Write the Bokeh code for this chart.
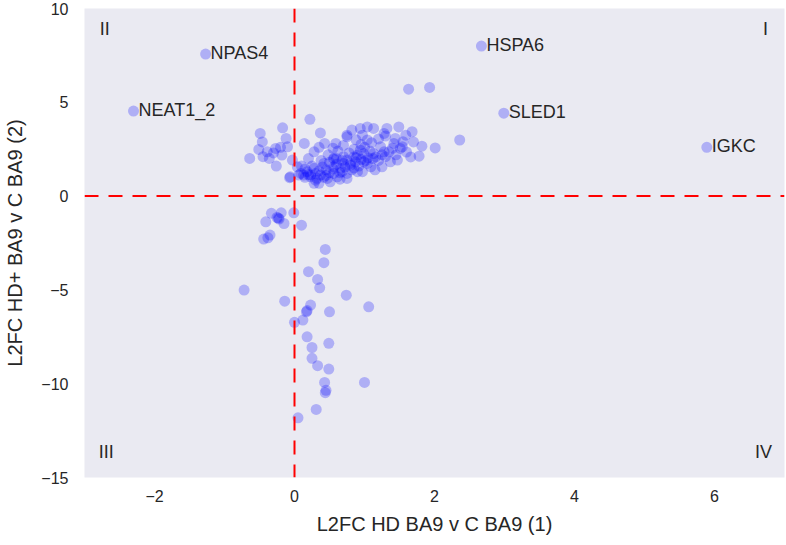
from bokeh.plotting import figure
from bokeh.models import Span, FixedTicker
from bokeh.core.properties import value
from bokeh.embed import file_html
from bokeh.resources import INLINE

# ---- data ----
cluster_x = [-0.49, -0.46, -0.51, -0.64, -0.36, -0.27, -0.18, -0.26, -0.17, -0.12,
             -0.10, -0.03, -0.07, -0.39, -0.20, -0.06, -0.45, -0.30, 0.22, 0.14,
             0.37, 0.43, 0.28, 0.59, 0.75, 0.82, 0.94, 1.04, 1.13, 1.32,
             1.49, 1.68, 1.70, 1.82, 2.01, 2.36, 1.78, 1.66, 1.47, 1.51,
             1.42, 1.28, 1.25, 1.04, 0.94, 0.99, 0.85, 0.70, 0.56, 0.42,
             0.28, 0.13, 0.23, 0.35, 0.47, 0.61, 0.75, 0.90, 1.09, 0.06,
             0.04, 0.56, 0.66, 0.80, 0.56, 0.75, 0.90, 1.13, 1.23, 1.35,
             1.44, 1.59, 0.75, 0.56, 0.09, 0.23, 0.37, 0.68, 0.80, 0.28,
             0.51, 0.75, 0.97, 1.54, 1.28, 0.87, 0.97, 1.37, 1.16, 1.04,
             0.99, 0.15, 0.30, 0.45, 0.60, 0.70, 0.85, 1.00, 1.10, 1.20,
             0.40, 0.50, 0.65, 0.32, 0.18, 0.85, 1.05, 0.95, 1.20, 1.30,
             0.62, 0.48, 0.35, 0.20, 0.10, 0.55, 1.15, 1.40, 1.60, 0.88,
             0.70, 1.30, 1.63, 1.93,
             0.20, 0.35, 0.45, 0.55, 0.65, 0.72, 0.82, 0.92, 1.02, 1.12,
             0.60, 0.50, 0.38, 0.25, 0.15, 0.78, 0.95, 1.08, 1.25, 1.45,
             1.55, 0.42, 0.30, 0.88, 0.68]
cluster_y = [3.34, 2.89, 2.49, 2.01, 2.01, 2.54, 2.19, 1.60, 3.64, 3.07,
             2.63, 1.92, 0.98, 2.36, 2.60, 1.03, 2.10, 2.30, 4.09, 2.81,
             3.37, 2.81, 2.36, 2.81, 3.25, 3.52, 3.61, 3.69, 3.61, 3.61,
             3.69, 3.43, 2.89, 2.66, 2.57, 2.99, 2.13, 2.09, 1.92, 2.54,
             2.81, 3.34, 1.56, 2.99, 2.45, 1.83, 2.09, 1.74, 2.01, 1.74,
             1.48, 1.12, 1.03, 0.68, 0.94, 1.03, 1.21, 1.30, 1.56, 1.12,
             1.56, 1.21, 1.48, 1.65, 1.56, 1.92, 2.19, 2.27, 2.63, 2.36,
             3.07, 3.25, 3.16, 1.96, 1.21, 1.12, 1.12, 1.30, 1.74, 0.68,
             0.76, 0.94, 3.25, 2.63, 2.36, 1.83, 1.30, 1.83, 2.09, 1.74,
             2.27, 1.00, 1.20, 1.40, 1.70, 2.10, 2.50, 2.60, 2.85, 3.05,
             1.55, 1.25, 0.90, 0.95, 1.30, 1.50, 2.05, 1.95, 1.90, 2.10,
             2.40, 2.20, 2.60, 2.00, 1.60, 2.55, 1.40, 2.55, 2.35, 3.00,
             2.70, 3.20, 5.70, 5.79,
             1.15, 1.35, 1.10, 1.45, 1.25, 1.55, 1.40, 1.60, 1.90, 2.00,
             2.00, 1.80, 1.90, 1.60, 1.45, 2.30, 2.75, 2.40, 2.20, 2.20,
             2.90, 1.00, 0.85, 2.05, 1.90]

lower_x = [-0.33, -0.19, -0.01, -0.41, -0.25, -0.23, -0.22, -0.15, 0.10, -0.35,
           -0.44, -0.38, 0.44, 0.42, 0.20, 0.33, 0.36, -0.72, 0.74, -0.14,
           1.06, 0.23, 0.17, 0.18, 0.50, 0.12, 0.00, 0.18, 0.49, 0.25,
           0.25, 0.33, 0.49, 0.43, 1.00, 0.44, 0.45, 0.31, 0.05]
lower_y = [-0.92, -0.89, -0.89, -1.37, -1.14, -1.17, -1.22, -1.46, -1.55, -2.08,
           -2.29, -2.22, -2.84, -3.55, -4.03, -4.44, -4.89, -5.01, -5.28, -5.60,
           -5.90, -5.81, -6.17, -6.10, -6.17, -6.61, -6.73, -7.50, -7.85, -8.07,
           -8.65, -9.04, -9.22, -9.93, -9.93, -10.48, -10.35, -11.37, -11.82]

gene_names = ["NPAS4", "NEAT1_2", "HSPA6", "SLED1", "IGKC"]
gene_x = [-1.27, -2.30, 2.67, 2.99, 5.89]
gene_y = [7.57, 4.53, 8.00, 4.42, 2.60]

quad_text = ["I", "II", "III", "IV"]
quad_x = [6.73, -2.71, -2.69, 6.70]
quad_y = [8.9, 8.9, -13.65, -13.65]

x_ticks = [-2, 0, 2, 4, 6]
x_tick_labels = ["\u22122", "0", "2", "4", "6"]
y_ticks = [-15, -10, -5, 0, 5, 10]
y_tick_labels = ["\u221215", "\u221210", "\u22125", "0", "5", "10"]

FONT = "Liberation Sans"
TXT = "#262626"

p = figure(width=786, height=537, x_range=(-3, 7), y_range=(-15, 10),
           output_backend="svg", toolbar_location=None,
           min_border_left=84, min_border_right=2, min_border_top=8,
           min_border_bottom=60)
p.background_fill_color = "#EAEAF2"
p.border_fill_color = "white"
p.outline_line_color = None
p.grid.grid_line_color = None

p.xaxis.ticker = FixedTicker(ticks=x_ticks)
p.xaxis.major_label_overrides = dict(zip(x_ticks, x_tick_labels))
p.yaxis.ticker = FixedTicker(ticks=y_ticks)
p.yaxis.major_label_overrides = dict(zip(y_ticks, y_tick_labels))

for ax in (p.xaxis[0], p.yaxis[0]):
    ax.axis_line_color = None
    ax.major_tick_line_color = None
    ax.minor_tick_line_color = None
    ax.major_tick_out = 0
    ax.major_tick_in = 0
    ax.major_label_text_font = FONT
    ax.major_label_text_font_size = "16px"
    ax.major_label_text_color = TXT
    ax.axis_label_text_font = FONT
    ax.axis_label_text_font_size = "20px"
    ax.axis_label_text_font_style = "normal"
    ax.axis_label_text_color = TXT

p.xaxis.axis_label = "L2FC HD BA9 v C BA9 (1)"
p.yaxis.axis_label = "L2FC HD+ BA9 v C BA9 (2)"
p.xaxis.major_label_standoff = 12
p.yaxis.major_label_standoff = 16
p.xaxis.axis_label_standoff = 8
p.yaxis.axis_label_standoff = 12

dot = dict(size=11, fill_color="blue", fill_alpha=0.25, line_color=None)
p.scatter(cluster_x, cluster_y, **dot)
p.scatter(lower_x, lower_y, **dot)
p.scatter(gene_x, gene_y, **dot)

p.text(x=gene_x, y=gene_y, text=gene_names, x_offset=5, y_offset=-1,
       text_font=value(FONT), text_font_size="18px", text_color=TXT,
       text_baseline="alphabetic", text_align="left")

p.text(x=quad_x, y=quad_y, text=quad_text,
       text_font=value(FONT), text_font_size="18px", text_color=TXT,
       text_baseline="middle", text_align="center")

p.add_layout(Span(location=0, dimension="width", line_color="red",
                  line_dash="14 10", line_width=2))
p.add_layout(Span(location=0, dimension="height", line_color="red",
                  line_dash="14 10", line_width=2))

open("out.html", "w").write(file_html(p, INLINE))
